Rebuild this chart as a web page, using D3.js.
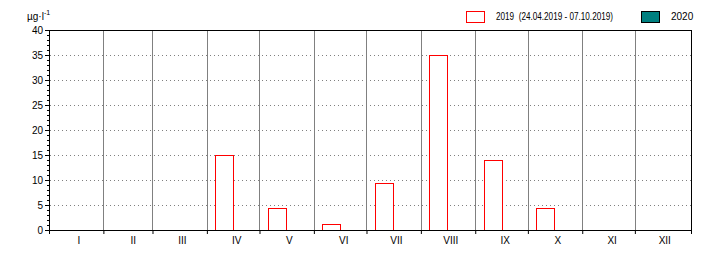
<!DOCTYPE html>
<html>
<head>
<meta charset="utf-8">
<script src="https://cdn.jsdelivr.net/npm/d3@7"></script>
<style>
  body { margin: 0; background: #fff; }
  text { font-family: "Liberation Sans Narrow", "Liberation Sans", Arial, sans-serif; font-size: 10px; fill: #000; white-space: pre; }
</style>
</head>
<body>
<script>
// data
const months = ["I", "II", "III", "IV", "V", "VI", "VII", "VIII", "IX", "X", "XI", "XII"];
const months2019 = [3, 4, 5, 6, 7, 8, 9]; // month index (0 = Jan)
const values2019 = [15, 4.4, 1.2, 9.5, 35, 14, 4.4];
const values2020 = [];
const yTicks = [0, 5, 10, 15, 20, 25, 30, 35, 40];
const legendLabels = ["2019  (24.04.2019 - 07.10.2019)", "2020"];
const unitLabel = "µg·l";

const w = 720;
const h = 260;
const plotLeft = 49, plotRight = 691, plotTop = 30, plotBottom = 230;
const DAY = 864e5;

const svg = d3.select("body")
    .append("svg")
    .attr("width", w)
    .attr("height", h);

svg.append("rect").attr("width", w).attr("height", h).attr("fill", "#fff");

const xScale = d3.scaleTime()
    .domain([new Date(2019, 0, 1), new Date(2020, 0, 2)])
    .range([plotLeft, plotRight]);

const yScale = d3.scaleLinear()
    .domain([0, 40])
    .range([plotBottom, plotTop]);

const px = (v) => Math.round(v) + 0.5;
const monthStart = (m) => new Date(2019, m, 1);
const boundaries = d3.timeMonth.range(new Date(2019, 1, 1), new Date(2020, 0, 1));

// dotted horizontal grid
svg.append("g")
    .selectAll("line")
    .data(yTicks.filter((d) => d > 0 && d < 40))
    .enter()
    .append("line")
    .attr("x1", plotLeft + 1)
    .attr("x2", plotRight)
    .attr("y1", (d) => px(yScale(d)))
    .attr("y2", (d) => px(yScale(d)))
    .attr("stroke", "#808080")
    .attr("stroke-dasharray", "1,3");

// month separators
svg.append("g")
    .selectAll("line")
    .data(boundaries)
    .enter()
    .append("line")
    .attr("x1", (d) => px(xScale(d)))
    .attr("x2", (d) => px(xScale(d)))
    .attr("y1", plotTop)
    .attr("y2", plotBottom)
    .attr("stroke", "#808080");

// 2019 bars
const bars = months2019.map((m, i) => ({ m: m, v: values2019[i] }));
const barStart = (m) => new Date(+monthStart(m) + 4.8 * DAY);
const barEnd = (m) => new Date(+monthStart(m) + 15.1 * DAY);

svg.append("g")
    .selectAll("rect")
    .data(bars)
    .enter()
    .append("rect")
    .attr("x", (d) => px(xScale(barStart(d.m))))
    .attr("width", (d) => Math.round(xScale(barEnd(d.m))) - Math.round(xScale(barStart(d.m))))
    .attr("y", (d) => px(yScale(d.v)))
    .attr("height", (d) => Math.round(yScale(0)) - Math.round(yScale(d.v)))
    .attr("fill", "#fff")
    .attr("stroke", "#ff0000");

// frame: top and right
svg.append("line")
    .attr("x1", plotLeft).attr("x2", plotRight + 1)
    .attr("y1", plotTop + 0.5).attr("y2", plotTop + 0.5)
    .attr("stroke", "#000");
svg.append("line")
    .attr("x1", plotRight + 0.5).attr("x2", plotRight + 0.5)
    .attr("y1", plotTop).attr("y2", plotBottom)
    .attr("stroke", "#000");

// y axis, major and minor ticks
const yMinor = d3.axisLeft(yScale).tickValues(d3.range(0, 41)).tickSize(2).tickFormat("");
const yAxis = d3.axisLeft(yScale).tickValues(yTicks).tickSize(4).tickPadding(2).tickFormat(d3.format("d"));

svg.append("g").attr("transform", `translate(${plotLeft}, 0)`).call(yMinor);
svg.append("g").attr("transform", `translate(${plotLeft}, 0)`).call(yAxis);

// x axis: boundary ticks and month labels
const xTicks = d3.axisBottom(xScale)
    .tickValues(boundaries.concat([new Date(2020, 0, 2)]))
    .tickSize(4)
    .tickFormat("");
svg.append("g").attr("transform", `translate(0, ${plotBottom})`).call(xTicks);

const labelDates = months.map((d, i) => new Date(+monthStart(i) + 16.75 * DAY));
const xLabels = d3.axisBottom(xScale)
    .tickValues(labelDates)
    .tickSize(0)
    .tickPadding(7)
    .tickFormat((d, i) => months[i]);
svg.append("g")
    .attr("transform", `translate(0, ${plotBottom})`)
    .call(xLabels)
    .call((g) => g.select(".domain").remove());

svg.selectAll("g").attr("font-family", null).attr("font-size", null);
svg.selectAll(".domain").attr("stroke", "#000");
svg.selectAll(".tick line").attr("stroke", "#000");

// unit
const unit = svg.append("text").attr("x", 27).attr("y", 20).text(unitLabel);
unit.append("tspan").attr("dy", -5).attr("font-size", "7px").text("-1");

// legend
svg.append("rect")
    .attr("x", 466.5).attr("y", 11.5).attr("width", 18).attr("height", 11)
    .attr("fill", "#fff").attr("stroke", "#ff0000");
svg.append("text")
    .attr("x", 496).attr("y", 20)
    .attr("font-size", "9.5px")
    .attr("textLength", 117)
    .attr("lengthAdjust", "spacingAndGlyphs")
    .text(legendLabels[0]);

svg.append("rect")
    .attr("x", 641.5).attr("y", 11.5).attr("width", 18).attr("height", 11)
    .attr("fill", "#008080").attr("stroke", "#000");
svg.append("text").attr("x", 671).attr("y", 20).text(legendLabels[1]);
</script>
</body>
</html>
